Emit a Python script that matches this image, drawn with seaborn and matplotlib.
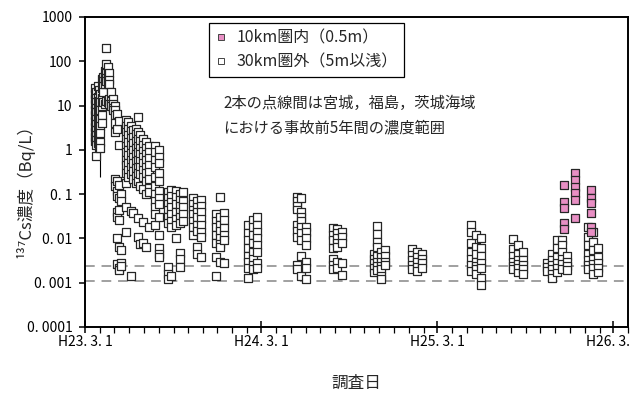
import matplotlib
matplotlib.use("Agg")
import matplotlib.pyplot as plt
import matplotlib.dates as mdates
from matplotlib.ticker import NullLocator, FixedLocator
from matplotlib.lines import Line2D
import seaborn as sns
import pandas as pd

# ---------------- data ----------------
outer_label = "30km圏外（5m以浅）"
inner_label = "10km圏内（0.5m）"

outer_dates = [
    "2011-03-21", "2011-03-24", "2011-03-27", "2011-03-30", "2011-04-02", "2011-04-05",
    "2011-04-08", "2011-04-11", "2011-04-14", "2011-04-17", "2011-04-20", "2011-04-24",
    "2011-04-28", "2011-05-02", "2011-05-06", "2011-05-10", "2011-05-14", "2011-05-25",
    "2011-05-30", "2011-06-04", "2011-06-09", "2011-06-14", "2011-06-19", "2011-06-24",
    "2011-06-29", "2011-07-05", "2011-07-11", "2011-07-25", "2011-08-01", "2011-08-20",
    "2011-08-27", "2011-09-05", "2011-09-14", "2011-09-20", "2011-10-12", "2011-10-20",
    "2011-10-28", "2011-11-28", "2011-12-06", "2011-12-14", "2012-02-03", "2012-02-12",
    "2012-02-22", "2012-05-15", "2012-05-23", "2012-06-01", "2012-07-28", "2012-08-05",
    "2012-08-15", "2012-10-20", "2012-10-28", "2012-11-05", "2012-11-13", "2013-01-08",
    "2013-01-18", "2013-01-28", "2013-05-10", "2013-05-20", "2013-05-30", "2013-08-06",
    "2013-08-16", "2013-08-26", "2013-10-15", "2013-10-25", "2013-11-05", "2013-11-15",
    "2013-11-25", "2014-01-08", "2014-01-18", "2014-01-28",
]
outer_values = [
    [25, 18, 14, 11, 8, 6, 4.5, 3.2, 2.5, 2.0, 1.6],
    [20, 15, 12, 9, 7, 5, 3.8, 2.8, 2.2, 1.7, 1.3, 0.72],
    [28, 16, 10, 7.5, 5.5, 4.0, 3.0, 2.3, 1.8, 1.4],
    [22, 13, 9.0, 6.0, 4.2, 3.3, 2.6, 2.0, 1.5, 1.15],
    [18, 12, 8.0, 5.0, 3.5, 2.4, 1.5, 1.1],
    [40, 25, 15, 10, 6.0, 4.0],
    [45, 35, 28, 20, 12],
    [60, 45, 38, 30, 11],
    [200, 85, 55, 42, 35, 13],
    [75, 50, 40, 32, 12],
    [55, 38, 30, 14, 11],
    [20, 13, 11, 10],
    [14, 11, 9.0, 8.0],
    [10, 8.0, 6.0, 4.0, 2.5, 0.22, 0.15],
    [6.5, 3.0, 0.2, 0.12, 0.09, 0.04, 0.03, 0.01, 0.0026],
    [4.5, 1.3, 0.16, 0.08, 0.044, 0.026, 0.0065, 0.0022, 0.0019],
    [0.1, 0.07, 0.0055, 0.0028, 0.0024],
    [4.7, 3.5, 2.5, 1.8, 1.2, 0.9, 0.6, 0.45, 0.3, 0.18, 0.05, 0.014],
    [4.2, 3.0, 2.2, 1.5, 1.0, 0.75, 0.5, 0.35, 0.25],
    [3.5, 2.6, 1.9, 1.3, 0.85, 0.6, 0.4, 0.28, 0.041, 0.0014],
    [2.8, 2.0, 1.4, 1.0, 0.7, 0.5, 0.33, 0.22, 0.037],
    [3.0, 2.3, 1.6, 1.1, 0.8, 0.55, 0.38, 0.26, 0.18],
    [5.5, 2.5, 1.8, 1.2, 0.9, 0.6, 0.42, 0.3, 0.2, 0.029, 0.011],
    [2.2, 1.6, 1.1, 0.8, 0.55, 0.4, 0.28, 0.15, 0.0075],
    [1.8, 1.3, 0.95, 0.7, 0.5, 0.35, 0.24, 0.13, 0.024, 0.008],
    [1.5, 1.1, 0.8, 0.6, 0.42, 0.3, 0.2, 0.1, 0.0065],
    [1.2, 0.9, 0.65, 0.45, 0.32, 0.22, 0.14, 0.11, 0.018],
    [1.2, 0.9, 0.6, 0.4, 0.25, 0.15, 0.1, 0.07, 0.05, 0.035, 0.02],
    [1.0, 0.7, 0.5, 0.3, 0.2, 0.12, 0.08, 0.06, 0.03, 0.012, 0.006, 0.0045, 0.0038],
    [0.11, 0.08, 0.06, 0.045, 0.03, 0.022, 0.0023, 0.0016, 0.0012],
    [0.125, 0.09, 0.065, 0.05, 0.035, 0.025, 0.018, 0.0014],
    [0.12, 0.085, 0.06, 0.04, 0.028, 0.02, 0.01],
    [0.1, 0.075, 0.055, 0.04, 0.03, 0.022, 0.0047, 0.0035, 0.0023],
    [0.11, 0.07, 0.05, 0.035, 0.025],
    [0.08, 0.06, 0.045, 0.035, 0.025, 0.018, 0.012],
    [0.07, 0.05, 0.04, 0.03, 0.02, 0.015, 0.0065, 0.0045],
    [0.075, 0.055, 0.04, 0.028, 0.02, 0.014, 0.011, 0.0038],
    [0.035, 0.025, 0.018, 0.012, 0.008, 0.0038, 0.0014],
    [0.087, 0.03, 0.02, 0.015, 0.01, 0.0075, 0.0065, 0.003],
    [0.037, 0.026, 0.017, 0.012, 0.009, 0.0028],
    [0.02, 0.013, 0.009, 0.006, 0.004, 0.003, 0.0022, 0.0013],
    [0.026, 0.018, 0.012, 0.008, 0.005, 0.0035, 0.0025, 0.002],
    [0.031, 0.02, 0.014, 0.01, 0.007, 0.005, 0.0028, 0.0021],
    [0.087, 0.07, 0.055, 0.045, 0.02, 0.015, 0.011, 0.0025, 0.002],
    [0.08, 0.04, 0.03, 0.025, 0.018, 0.013, 0.009, 0.004, 0.0014],
    [0.018, 0.014, 0.01, 0.007, 0.003, 0.0022, 0.0012],
    [0.017, 0.012, 0.009, 0.006, 0.0035, 0.0025, 0.002],
    [0.016, 0.013, 0.01, 0.008, 0.0065, 0.003, 0.0022],
    [0.014, 0.011, 0.008, 0.0028, 0.0015],
    [0.0045, 0.0035, 0.0028, 0.0022, 0.0017],
    [0.019, 0.0126, 0.0084, 0.0065, 0.004, 0.003, 0.0024, 0.0019],
    [0.005, 0.0038, 0.003, 0.0024, 0.002, 0.0014, 0.0012],
    [0.0055, 0.004, 0.003, 0.0025],
    [0.0058, 0.0042, 0.0032, 0.0025, 0.002],
    [0.005, 0.0038, 0.003, 0.0023, 0.0018],
    [0.0045, 0.0035, 0.0028, 0.0021],
    [0.02, 0.014, 0.008, 0.005, 0.0035, 0.0025, 0.0018],
    [0.012, 0.0065, 0.0045, 0.003, 0.0024, 0.002, 0.0016],
    [0.01, 0.006, 0.004, 0.0028, 0.0022, 0.0013, 0.0009],
    [0.0098, 0.0058, 0.004, 0.003, 0.0024, 0.002],
    [0.007, 0.0045, 0.0033, 0.0026, 0.0021, 0.0017],
    [0.005, 0.0032, 0.0025, 0.002, 0.0016],
    [0.0028, 0.0023, 0.0018],
    [0.0045, 0.0032, 0.0025, 0.002, 0.0016, 0.0013],
    [0.009, 0.006, 0.0038, 0.0028, 0.0022, 0.0017],
    [0.0093, 0.007, 0.005, 0.0035, 0.0026, 0.002],
    [0.004, 0.003, 0.0024, 0.0019],
    [0.018, 0.011, 0.007, 0.0045, 0.0032, 0.0025, 0.002],
    [0.014, 0.0085, 0.0055, 0.0035, 0.0027, 0.0021, 0.0016],
    [0.006, 0.0038, 0.0028, 0.0022, 0.0017],
]

inner_dates = ["2013-11-20", "2013-12-12", "2014-01-14"]
inner_values = [
    [0.16, 0.067, 0.049, 0.022, 0.016],
    [0.30, 0.21, 0.146, 0.107, 0.074, 0.029],
    [0.125, 0.083, 0.063, 0.038, 0.018, 0.014],
]

# error bar on one early sample
err_date = ["2011-04-02"]
err_value = [1.2]
err_low = [0.25]
err_high = [5.0]

# range before accident (dashed lines)
bg_range = [0.0011, 0.0024]

tick_dates = ["2011-03-01", "2012-03-01", "2013-03-01", "2014-03-01"]
tick_labels = ["H23. 3. 1", "H24. 3. 1", "H25. 3. 1", "H26. 3. 1"]
ytick_values = [1000, 100, 10, 1, 0.1, 0.01, 0.001, 0.0001]
ytick_labels = ["1000", "100", "10", "1", "0. 1", "0. 01", "0. 001", "0. 0001"]

# ---------------- frame ----------------
rows = []
for d, vals in zip(outer_dates, outer_values):
    for v in vals:
        rows.append((pd.Timestamp(d), v, outer_label))
for d, vals in zip(inner_dates, inner_values):
    for v in vals:
        rows.append((pd.Timestamp(d), v, inner_label))
df = pd.DataFrame(rows, columns=["date", "value", "group"])

sns.set_theme(style="ticks")
plt.rcParams["font.family"] = ["Noto Sans CJK JP", "DejaVu Sans"]
plt.rcParams["axes.unicode_minus"] = False

pink = "#e88fc4"
edge = "#262626"

fig = plt.figure(figsize=(6.32, 3.94), dpi=100)
ax = fig.add_axes([85 / 632, 1 - 327 / 394, (628 - 85) / 632, (327 - 17) / 394])

for v in bg_range:
    ax.axhline(v, color="#a0a0a0", ls=(0, (5, 3.5)), lw=1.4, zorder=1)

ed = pd.to_datetime(err_date)
ax.errorbar(ed, err_value,
            yerr=[[err_value[0] - err_low[0]], [err_high[0] - err_value[0]]],
            fmt="none", ecolor="black", elinewidth=0.8, capsize=0, zorder=2)

sns.scatterplot(data=df, x="date", y="value", hue="group",
                palette={outer_label: "white", inner_label: pink},
                marker="s", s=33, edgecolor=edge, linewidth=0.9,
                legend=False, ax=ax, zorder=3)

ax.set_yscale("log")
ax.set_ylim(1e-4, 1e3)
ax.yaxis.set_major_locator(FixedLocator(ytick_values))
ax.set_yticklabels(ytick_labels)
ax.yaxis.set_minor_locator(NullLocator())

ax.set_xlim(mdates.date2num(pd.Timestamp("2011-03-01")),
            mdates.date2num(pd.Timestamp("2014-04-01")))
ax.xaxis.set_major_locator(FixedLocator(mdates.date2num(pd.to_datetime(tick_dates))))
ax.set_xticklabels(tick_labels)
ax.xaxis.set_minor_locator(mdates.MonthLocator(bymonthday=1))

for s in ax.spines.values():
    s.set_color("black")
    s.set_linewidth(1.4)

ax.tick_params(axis="x", which="major", direction="inout", length=9, width=1.1,
               labelsize=10, pad=1, colors="black")
ax.tick_params(axis="x", which="minor", direction="out", length=4, width=0.9, colors="black")
ax.tick_params(axis="y", which="major", direction="out", length=4, width=1.1,
               labelsize=10, pad=5, colors="black")

ax.set_xlabel("調査日", fontsize=12, labelpad=19)
ax.set_ylabel("¹³⁷Cs濃度（Bq/L）", fontsize=12)
ax.yaxis.set_label_coords(-0.093, 0.45)
ax.grid(False)

handles = [
    Line2D([], [], marker="s", ls="", markerfacecolor=pink, markeredgecolor="#444444",
           markersize=5, markeredgewidth=0.7),
    Line2D([], [], marker="s", ls="", markerfacecolor="white", markeredgecolor="#444444",
           markersize=5, markeredgewidth=0.7),
]
leg = fig.legend(handles, [inner_label, outer_label], loc="upper left",
                 bbox_to_anchor=(209 / 632, 1 - 23 / 394), frameon=True, fancybox=False,
                 edgecolor="black", framealpha=1, fontsize=11.5, handlelength=0.7,
                 handletextpad=0.6, borderpad=0.4, labelspacing=0.45, borderaxespad=0)
leg.get_frame().set_linewidth(0.9)

fig.text(223 / 632, 1 - 103 / 394, "2本の点線間は宮城，福島，茨城海域",
         fontsize=11, va="center", ha="left")
fig.text(223 / 632, 1 - 128 / 394, "における事故前5年間の濃度範囲",
         fontsize=11, va="center", ha="left")

fig.savefig("out.png", dpi=100, facecolor="white")
